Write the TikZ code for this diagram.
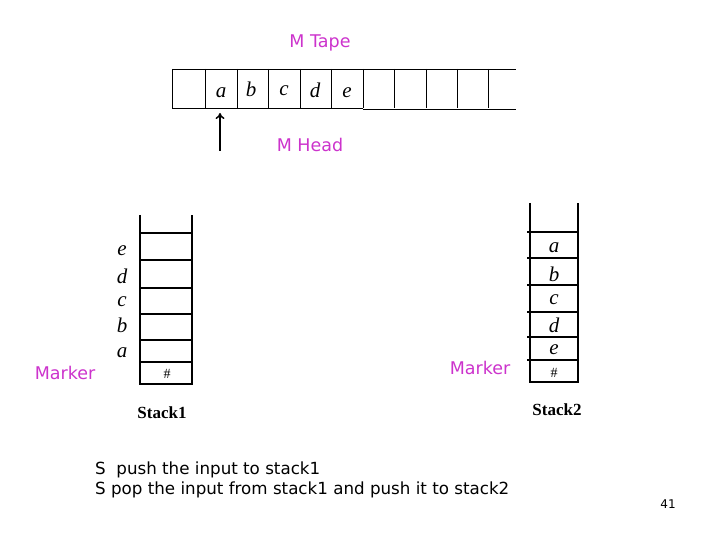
\documentclass[tikz,border=0pt]{standalone}
\usepackage{fontspec}
\setmainfont{Liberation Serif}
\setsansfont{DejaVu Sans}
\usetikzlibrary{arrows.meta}
\definecolor{mpink}{RGB}{204,51,204}

\tikzset{
  lbl/.style={font=\sffamily\fontsize{17.5}{20}\selectfont, text=mpink, inner sep=0},
  sym/.style={font=\itshape\fontsize{21}{23}\selectfont, anchor=base, inner sep=0},
  hash/.style={font=\fontsize{14}{16}\selectfont, inner sep=0},
  stk/.style={font=\bfseries\fontsize{17}{19}\selectfont, inner sep=0},
  note/.style={font=\sffamily\fontsize{16.7}{19}\selectfont, anchor=base west, inner sep=0},
  stackline/.style={line width=1.3pt},
}

\begin{document}
\begin{tikzpicture}[x=1pt,y=-1pt]
\useasboundingbox (0,0) rectangle (720,540);

% tape
\draw (172,69) -- (516,69);
\draw (172,108) -- (363,108);
\draw (363,109) -- (516,109);
\foreach \x in {172,205,237,268,300,331,363,394,426,457,488}
  \draw (\x,69) -- (\x,108);
\foreach \l/\x/\y in {a/221/98,b/251/97,c/284/96,d/315/98,e/347/98}
  \node[sym] (tape\l) at (\x,\y) {\l};
\node[lbl] (tapelbl) at (320,43) {M Tape};

% head
\coordinate (headfoot) at (220,151);
\coordinate (headtip) at (220,113);
\draw [line width=1.5pt, arrows={->[width=9pt,length=6pt]}] (headfoot) -- (headtip);
\node[lbl] (headlbl) at (310,145) {M Head};

% stack1
\draw [stackline] (140,215) -- (140,384) -- (192,384) -- (192,215);
\foreach \y in {233,260,288,314,340,362}
  \draw [stackline] (140,\y) -- (192,\y);
\foreach \l/\y in {e/255,d/283,c/306,b/332,a/357}
  \node[sym] (one\l) at (122,\y) {\l};
\node[hash] (onehash) at (167,374) {\#};
\node[lbl] (onemark) at (65,373) {Marker};
\node[stk] (onelbl) at (162,413) {Stack1};

% stack2
\draw [stackline] (530,203) -- (530,382) -- (578,382) -- (578,203);
\foreach \y in {232,258,285,312,337,360}
  \draw [stackline] (527,\y) -- (578,\y);
\foreach \l/\y in {a/252,b/281,c/304,d/332,e/354}
  \node[sym] (two\l) at (554,\y) {\l};
\node[hash] (twohash) at (554,373) {\#};
\node[lbl] (twomark) at (480,368) {Marker};
\node[stk] (twolbl) at (557,410) {Stack2};

% notes
\node[note] (pushnote) at (95,474) {S\ \ push the input to stack1};
\node[note] (popnote) at (95,494) {S pop the input from stack1 and push it to stack2};
\node[font=\sffamily\fontsize{12}{14}\selectfont, inner sep=0] (pgnum) at (668,504) {41};
\end{tikzpicture}
\end{document}
